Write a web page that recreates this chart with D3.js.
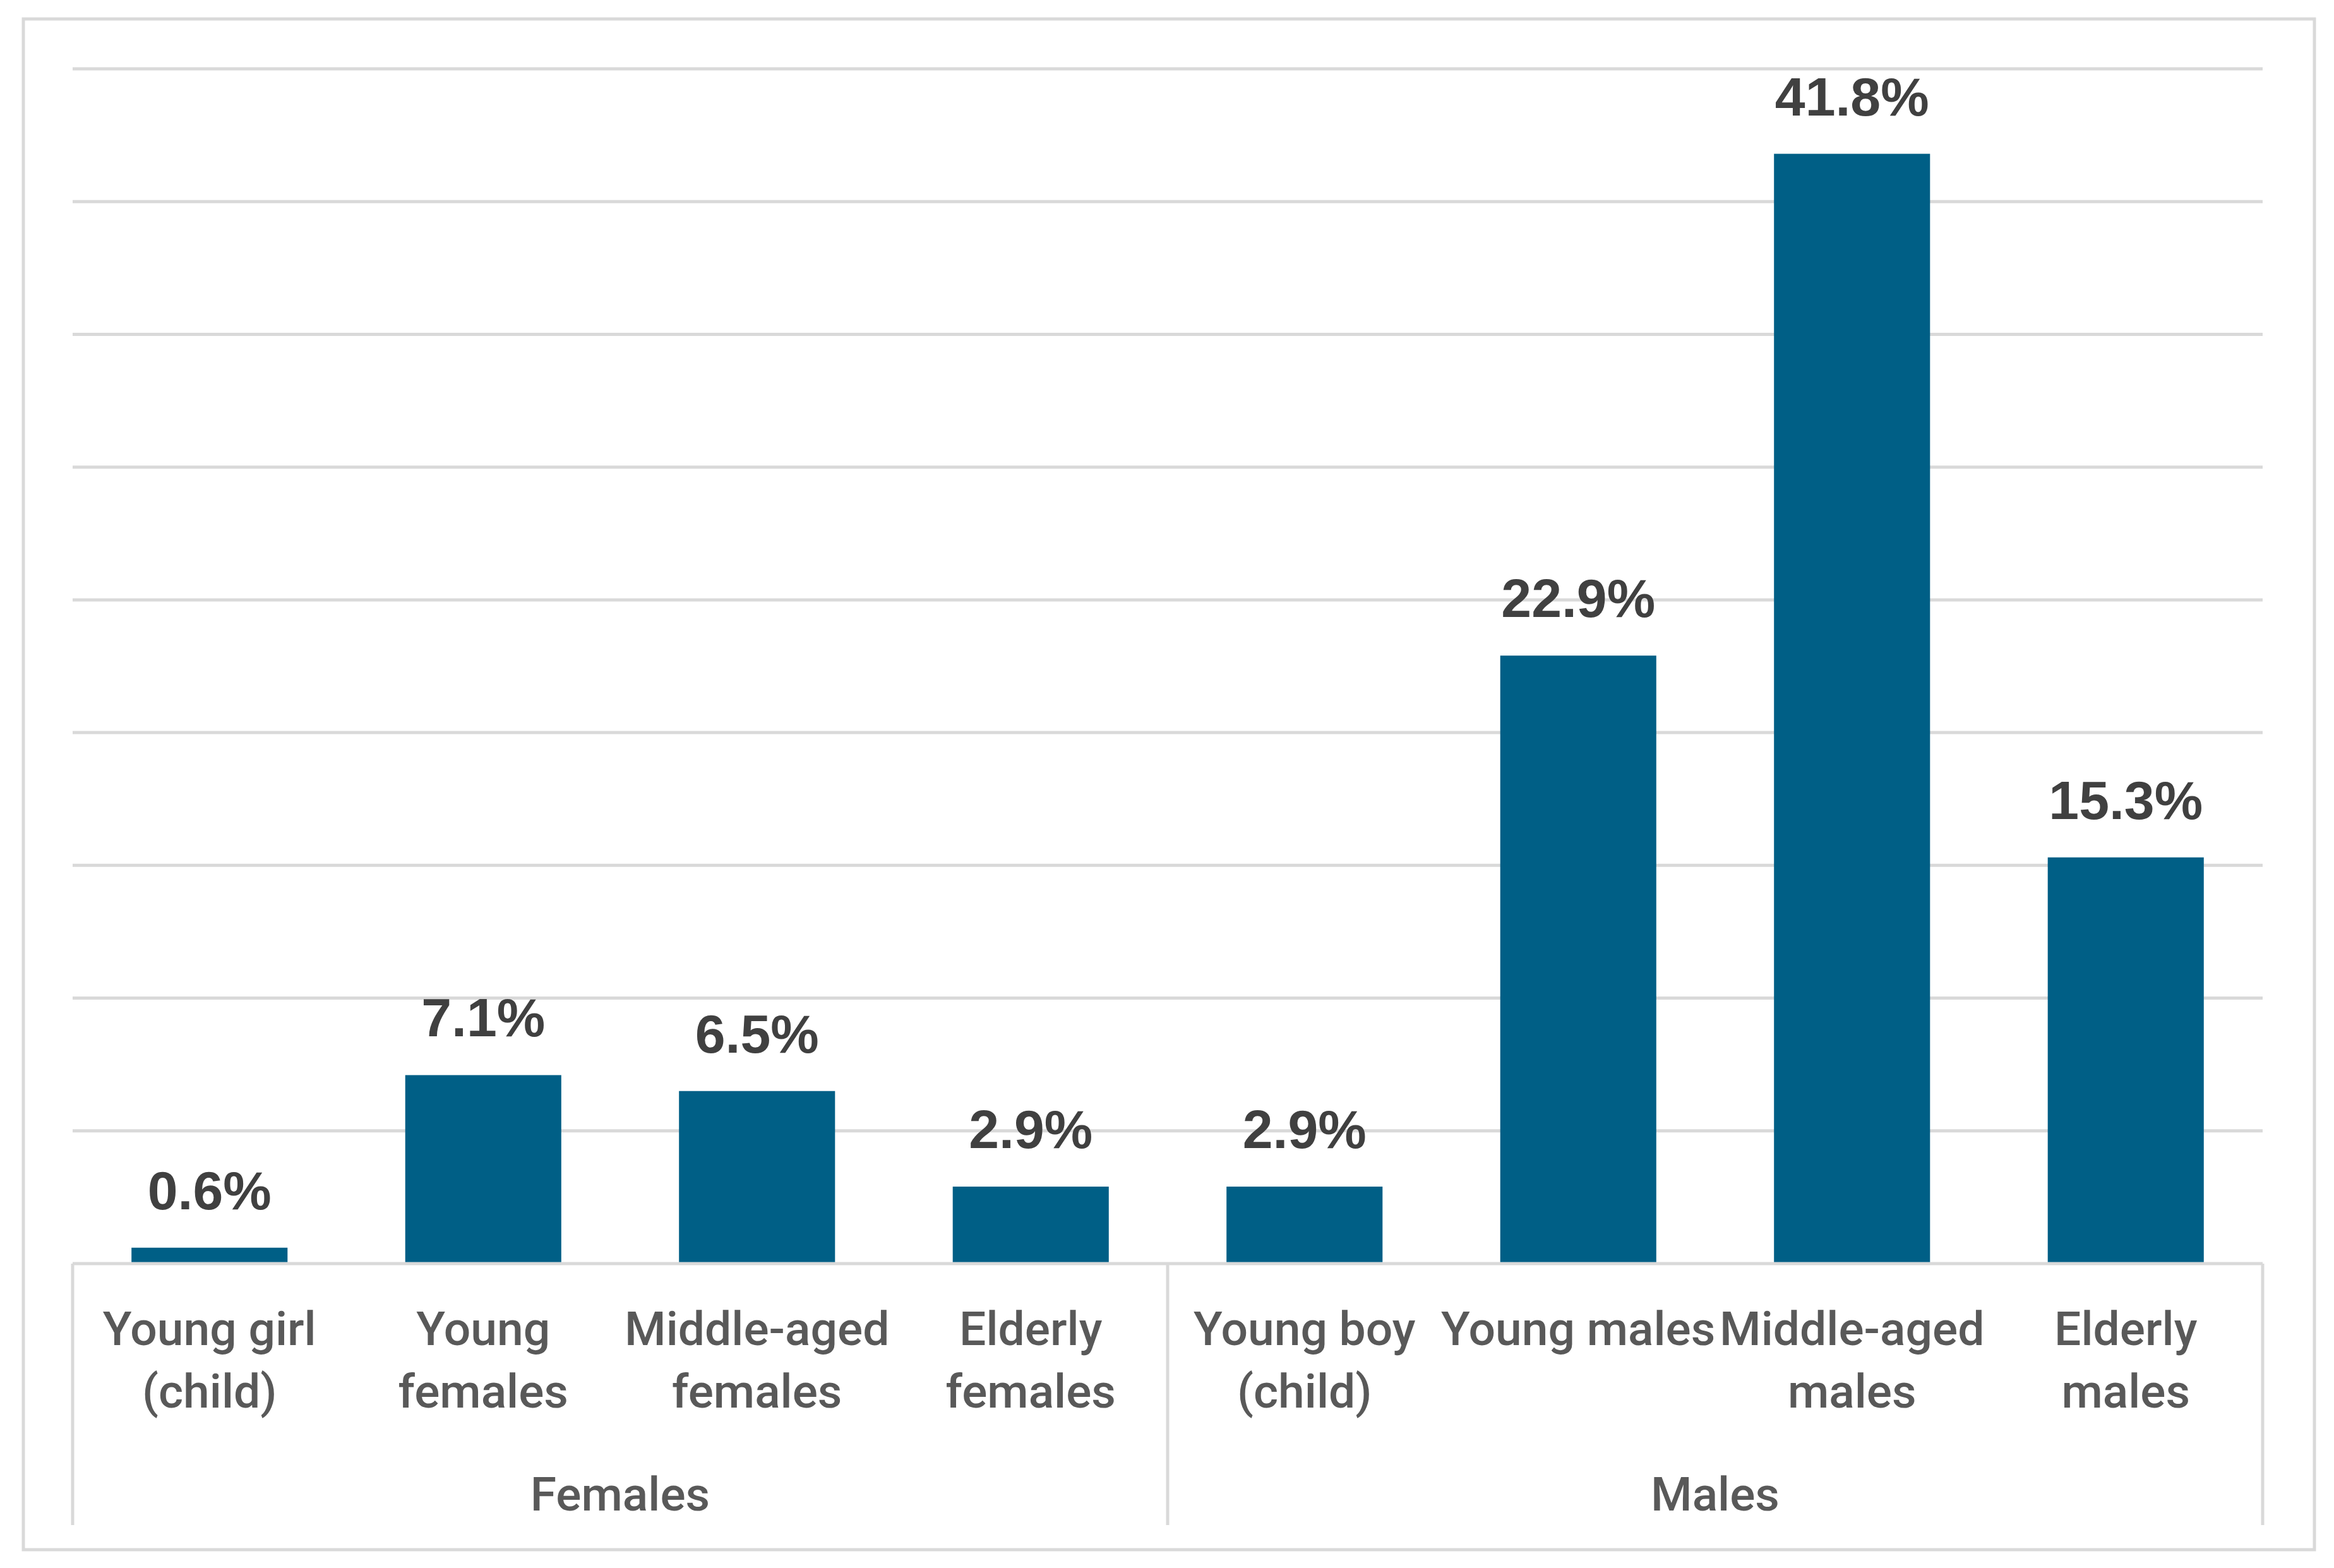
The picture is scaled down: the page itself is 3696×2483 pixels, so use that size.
<!DOCTYPE html>
<html>
<head>
<meta charset="utf-8">
<script src="https://cdn.jsdelivr.net/npm/d3@7"></script>
<style>
  html, body { margin: 0; padding: 0; background: #ffffff; }
  svg { display: block; }
</style>
</head>
<body>
<svg id="chart" width="3696" height="2483"></svg>
<script>
// ---- Data ----
const categories = ["Young girl (child)", "Young females", "Middle-aged females", "Elderly females",
                    "Young boy (child)", "Young males", "Middle-aged males", "Elderly males"];
const categoryLines = [["Young girl", "(child)"], ["Young", "females"], ["Middle-aged", "females"], ["Elderly", "females"],
                       ["Young boy", "(child)"], ["Young males"], ["Middle-aged", "males"], ["Elderly", "males"]];
const values = [0.006, 0.071, 0.065, 0.029, 0.029, 0.229, 0.418, 0.153];
const groups = ["Females", "Males"];
const groupMembers = [categories.slice(0, 4), categories.slice(4, 8)];
const yTicks = [0, 0.05, 0.10, 0.15, 0.20, 0.25, 0.30, 0.35, 0.40, 0.45];

// ---- Layout ----
const W = 3696, H = 2483;
const plot = { left: 115, right: 3583, top: 109, bottom: 2001 };
const svg = d3.select("#chart");

svg.append("rect").attr("x", 0).attr("y", 0).attr("width", W).attr("height", H).attr("fill", "#ffffff");
// outer chart border
svg.append("rect").attr("x", 37).attr("y", 30).attr("width", 3628).attr("height", 2424)
  .attr("fill", "none").attr("stroke", "#d9d9d9").attr("stroke-width", 5);

const x = d3.scaleBand().domain(categories).range([plot.left, plot.right]).paddingInner(0.43).paddingOuter(0.215);
const y = d3.scaleLinear().domain([0, 0.45]).range([plot.bottom, plot.top]);

// gridlines
svg.append("g").selectAll("line").data(yTicks.filter(d => d > 0)).join("line")
  .attr("x1", plot.left).attr("x2", plot.right)
  .attr("y1", d => y(d)).attr("y2", d => y(d))
  .attr("stroke", "#d9d9d9").attr("stroke-width", 5);

// bars
svg.append("g").selectAll("rect").data(categories).join("rect")
  .attr("x", d => x(d)).attr("width", x.bandwidth())
  .attr("y", (d, i) => y(values[i])).attr("height", (d, i) => y(0) - y(values[i]))
  .attr("fill", "#005f86");

// baseline axis
svg.append("line").attr("x1", plot.left).attr("x2", plot.right)
  .attr("y1", y(0)).attr("y2", y(0)).attr("stroke", "#d9d9d9").attr("stroke-width", 5);

// group separators
const sepX = [plot.left, x(categories[4]) - x.step() * x.paddingInner() / 2, plot.right];
svg.append("g").selectAll("line").data(sepX).join("line")
  .attr("x1", d => d).attr("x2", d => d)
  .attr("y1", y(0)).attr("y2", 2415)
  .attr("stroke", "#d9d9d9").attr("stroke-width", 5);

// data labels
const fmt = d3.format(".1%");
svg.append("g").selectAll("text").data(categories).join("text")
  .attr("x", d => x(d) + x.bandwidth() / 2)
  .attr("y", (d, i) => y(values[i]) - 61)
  .attr("text-anchor", "middle")
  .attr("font-family", "'Liberation Sans', Arial, sans-serif")
  .attr("font-weight", "bold")
  .attr("font-size", 86)
  .attr("fill", "#404040")
  .text((d, i) => fmt(values[i]));

// category labels
const catG = svg.append("g").selectAll("text").data(categories).join("text")
  .attr("text-anchor", "middle")
  .attr("font-family", "Roboto, sans-serif")
  .attr("font-weight", 500)
  .attr("font-size", 75)
  .attr("fill", "#595959");
catG.each(function(d, i) {
  const t = d3.select(this);
  categoryLines[i].forEach((line, k) => {
    t.append("tspan").attr("x", x(d) + x.bandwidth() / 2).attr("y", 2130 + k * 99).text(line);
  });
});

// group labels
svg.append("g").selectAll("text").data(groups).join("text")
  .attr("x", (g, i) => {
    const m = groupMembers[i];
    return (x(m[0]) + x(m[m.length - 1]) + x.bandwidth()) / 2;
  })
  .attr("y", 2392)
  .attr("text-anchor", "middle")
  .attr("font-family", "Roboto, sans-serif")
  .attr("font-weight", 500)
  .attr("font-size", 75)
  .attr("fill", "#595959")
  .text(d => d);
</script>
</body>
</html>
